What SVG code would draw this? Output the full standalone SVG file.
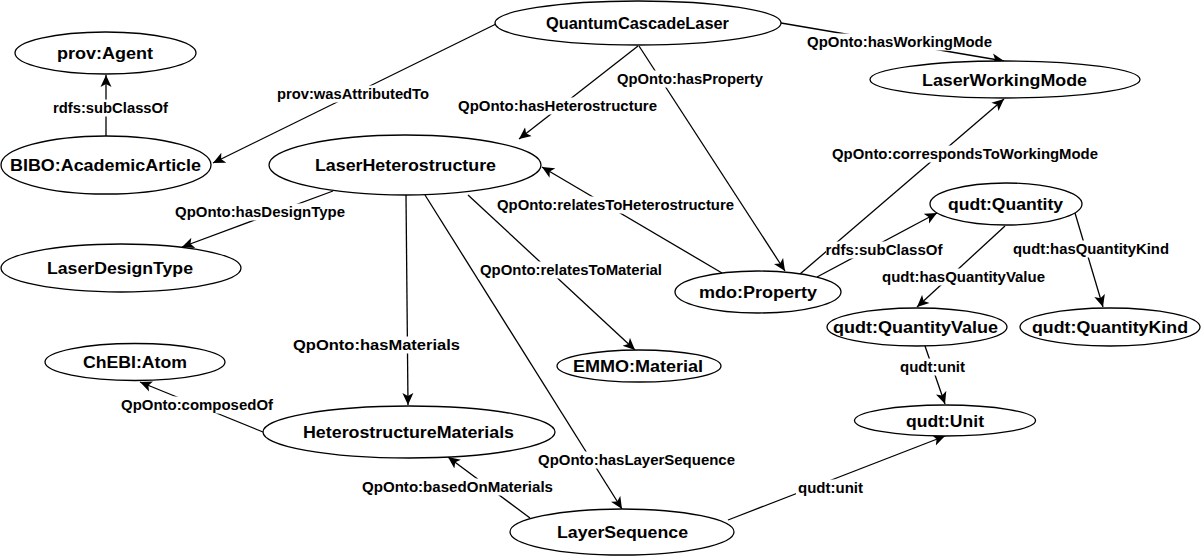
<svg xmlns="http://www.w3.org/2000/svg" width="1202" height="557" viewBox="0 0 1202 557">
<style>
.n{fill:#fff;stroke:#000;stroke-width:1.3}
.nt{font-family:"Liberation Sans",Arial,sans-serif;font-weight:bold;font-size:16px;text-anchor:middle;fill:#000}
.e{fill:none;stroke:#000;stroke-width:1.3;marker-end:url(#arr)}
.lb{fill:#fff}
.lt{font-family:"Liberation Sans",Arial,sans-serif;font-weight:bold;font-size:15px;text-anchor:middle;fill:#000}
</style>
<defs>
<marker id="arr" markerUnits="userSpaceOnUse" markerWidth="14" markerHeight="12" refX="12" refY="6" orient="auto" viewBox="0 0 14 12">
<path d="M0,0.5 L12,6 L0,11.5 L3,6 Z" fill="#000"/>
</marker>
</defs>
<rect width="1202" height="557" fill="#fff"/>
<g id="connectors">
<path class="e" d="M106,136 L106,75"/>
<path class="e" d="M496,24 L213,163"/>
<path class="e" d="M638,46 L519,139"/>
<path class="e" d="M639,46 L785,271"/>
<path class="e" d="M781,23 L1004,61"/>
<path class="e" d="M800,274 L1004,99"/>
<path class="e" d="M333,191 L182,247"/>
<path class="e" d="M722,273 L542,167"/>
<path class="e" d="M468,195 L635,350"/>
<path class="e" d="M406,195 L408,405"/>
<path class="e" d="M425,195 L622,509"/>
<path class="e" d="M817,277 L937,213"/>
<path class="e" d="M1005,226 L917,307"/>
<path class="e" d="M1075,213 L1103,307"/>
<path class="e" d="M925,346 L945,404"/>
<path class="e" d="M728,520 L945,436"/>
<path class="e" d="M263,432 L140,382"/>
<path class="e" d="M530,518 L448,457"/>
<rect class="lb" x="51" y="99.5" width="119" height="17"/><text class="lt" x="110.5" y="113.3" textLength="115" lengthAdjust="spacingAndGlyphs">rdfs:subClassOf</text>
<rect class="lb" x="275" y="85.5" width="156" height="17"/><text class="lt" x="353" y="99.3" textLength="152" lengthAdjust="spacingAndGlyphs">prov:wasAttributedTo</text>
<rect class="lb" x="456" y="97.5" width="203" height="17"/><text class="lt" x="557.5" y="111.3" textLength="199" lengthAdjust="spacingAndGlyphs">QpOnto:hasHeterostructure</text>
<rect class="lb" x="615" y="70.5" width="150" height="17"/><text class="lt" x="690" y="84.3" textLength="146" lengthAdjust="spacingAndGlyphs">QpOnto:hasProperty</text>
<rect class="lb" x="805" y="33.5" width="189" height="17"/><text class="lt" x="899.5" y="47.3" textLength="185" lengthAdjust="spacingAndGlyphs">QpOnto:hasWorkingMode</text>
<rect class="lb" x="830" y="145.5" width="270" height="17"/><text class="lt" x="965" y="159.3" textLength="266" lengthAdjust="spacingAndGlyphs">QpOnto:correspondsToWorkingMode</text>
<rect class="lb" x="173" y="203.5" width="174" height="17"/><text class="lt" x="260" y="217.3" textLength="170" lengthAdjust="spacingAndGlyphs">QpOnto:hasDesignType</text>
<rect class="lb" x="495" y="196.5" width="241" height="17"/><text class="lt" x="615.5" y="210.3" textLength="237" lengthAdjust="spacingAndGlyphs">QpOnto:relatesToHeterostructure</text>
<rect class="lb" x="478" y="261.5" width="186" height="17"/><text class="lt" x="571" y="275.3" textLength="182" lengthAdjust="spacingAndGlyphs">QpOnto:relatesToMaterial</text>
<rect class="lb" x="291" y="336.5" width="171" height="17"/><text class="lt" x="376.5" y="350.3" textLength="167" lengthAdjust="spacingAndGlyphs">QpOnto:hasMaterials</text>
<rect class="lb" x="536" y="451.5" width="201" height="17"/><text class="lt" x="636.5" y="465.3" textLength="197" lengthAdjust="spacingAndGlyphs">QpOnto:hasLayerSequence</text>
<rect class="lb" x="826" y="241.5" width="117" height="17"/><text class="lt" x="884" y="255.3" textLength="117" lengthAdjust="spacingAndGlyphs">rdfs:subClassOf</text>
<rect class="lb" x="880" y="268.5" width="167" height="17"/><text class="lt" x="963.5" y="282.3" textLength="163" lengthAdjust="spacingAndGlyphs">qudt:hasQuantityValue</text>
<rect class="lb" x="1011" y="240.5" width="160" height="17"/><text class="lt" x="1091" y="254.3" textLength="156" lengthAdjust="spacingAndGlyphs">qudt:hasQuantityKind</text>
<rect class="lb" x="898" y="358.5" width="69" height="17"/><text class="lt" x="932.5" y="372.3" textLength="65" lengthAdjust="spacingAndGlyphs">qudt:unit</text>
<rect class="lb" x="796" y="479.5" width="69" height="17"/><text class="lt" x="830.5" y="493.3" textLength="65" lengthAdjust="spacingAndGlyphs">qudt:unit</text>
<rect class="lb" x="119" y="396.5" width="156" height="17"/><text class="lt" x="197" y="410.3" textLength="152" lengthAdjust="spacingAndGlyphs">QpOnto:composedOf</text>
<rect class="lb" x="360" y="478.5" width="195" height="17"/><text class="lt" x="457.5" y="492.3" textLength="191" lengthAdjust="spacingAndGlyphs">QpOnto:basedOnMaterials</text>
</g>
<g id="prov-agent"><ellipse class="n" cx="105.5" cy="53" rx="90.5" ry="21"/><text class="nt" x="105" y="59" textLength="96" lengthAdjust="spacingAndGlyphs">prov:Agent</text></g>
<g id="bibo-academicarticle"><ellipse class="n" cx="106" cy="165" rx="105" ry="29"/><text class="nt" x="105.5" y="171" textLength="191" lengthAdjust="spacingAndGlyphs">BIBO:AcademicArticle</text></g>
<g id="quantumcascadelaser"><ellipse class="n" cx="638" cy="23" rx="143" ry="22"/><text class="nt" x="637.5" y="29" textLength="183" lengthAdjust="spacingAndGlyphs">QuantumCascadeLaser</text></g>
<g id="laserworkingmode"><ellipse class="n" cx="1005" cy="79.5" rx="135" ry="18.5"/><text class="nt" x="1004.5" y="85.5" textLength="165" lengthAdjust="spacingAndGlyphs">LaserWorkingMode</text></g>
<g id="laserheterostructure"><ellipse class="n" cx="405" cy="165" rx="136" ry="30"/><text class="nt" x="405.5" y="171" textLength="181" lengthAdjust="spacingAndGlyphs">LaserHeterostructure</text></g>
<g id="laserdesigntype"><ellipse class="n" cx="121" cy="268" rx="120" ry="24"/><text class="nt" x="120" y="274" textLength="146" lengthAdjust="spacingAndGlyphs">LaserDesignType</text></g>
<g id="mdo-property"><ellipse class="n" cx="758" cy="292" rx="83" ry="21"/><text class="nt" x="758" y="298" textLength="118" lengthAdjust="spacingAndGlyphs">mdo:Property</text></g>
<g id="qudt-quantity"><ellipse class="n" cx="1006" cy="204" rx="76" ry="21"/><text class="nt" x="1005.5" y="210" textLength="115" lengthAdjust="spacingAndGlyphs">qudt:Quantity</text></g>
<g id="qudt-quantityvalue"><ellipse class="n" cx="917" cy="327" rx="90" ry="19"/><text class="nt" x="915.5" y="333" textLength="165" lengthAdjust="spacingAndGlyphs">qudt:QuantityValue</text></g>
<g id="qudt-quantitykind"><ellipse class="n" cx="1110" cy="327" rx="90" ry="19"/><text class="nt" x="1110" y="333" textLength="156" lengthAdjust="spacingAndGlyphs">qudt:QuantityKind</text></g>
<g id="emmo-material"><ellipse class="n" cx="639" cy="366" rx="82" ry="16"/><text class="nt" x="638" y="372" textLength="130" lengthAdjust="spacingAndGlyphs">EMMO:Material</text></g>
<g id="chebi-atom"><ellipse class="n" cx="135" cy="362" rx="90" ry="18.5"/><text class="nt" x="135" y="368" textLength="104" lengthAdjust="spacingAndGlyphs">ChEBI:Atom</text></g>
<g id="heterostructurematerials"><ellipse class="n" cx="409" cy="432" rx="146" ry="26"/><text class="nt" x="408.5" y="438" textLength="211" lengthAdjust="spacingAndGlyphs">HeterostructureMaterials</text></g>
<g id="qudt-unit"><ellipse class="n" cx="945" cy="420.5" rx="90.5" ry="15.5"/><text class="nt" x="945" y="426.5" textLength="78" lengthAdjust="spacingAndGlyphs">qudt:Unit</text></g>
<g id="layersequence"><ellipse class="n" cx="622" cy="532" rx="112" ry="23"/><text class="nt" x="622.5" y="538" textLength="131" lengthAdjust="spacingAndGlyphs">LayerSequence</text></g>
</svg>
